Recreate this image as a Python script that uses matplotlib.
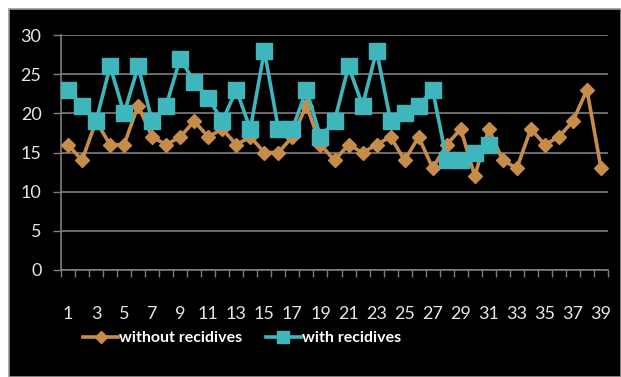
import matplotlib
matplotlib.use("Agg")
import matplotlib.pyplot as plt
from matplotlib.patches import Rectangle

# measurement number 1..39
patients = list(range(1, 40))

without_recidives = [16, 14, 19, 16, 16, 21, 17, 16, 17, 19,
                     17, 18, 16, 17, 15, 15, 17, 21, 16, 14,
                     16, 15, 16, 17, 14, 17, 13, 16, 18, 12,
                     18, 14, 13, 18, 16, 17, 19, 23, 13]

with_recidives = [23, 21, 19, 26, 20, 26, 19, 21, 27, 24,
                  22, 19, 23, 18, 28, 18, 18, 23, 17, 19,
                  26, 21, 28, 19, 20, 21, 23, 14, 14, 15,
                  16]

x_labels = [str(n) for n in patients[::2]]
y_ticks = [0, 5, 10, 15, 20, 25, 30]

BROWN = "#c68c4a"
TEAL = "#3fb6bb"
GRID = "#7f7f7f"
TEXT = "#e6e6e6"

plt.rcParams["font.family"] = ["Lato", "DejaVu Sans"]

W, H = 621, 377
fig = plt.figure(figsize=(W / 100, H / 100), dpi=100)
fig.patch.set_facecolor("white")

# black chart area with a thin grey frame
fig.patches.append(Rectangle((9 / W, 0), 1 - 9 / W, 1 - 9 / H,
                             transform=fig.transFigure, facecolor="black",
                             edgecolor="#9a9a9a", linewidth=1.2, zorder=-5))

ax = fig.add_axes([61 / W, 1 - 270 / H, (608 - 61) / W, (270 - 35) / H])
ax.set_facecolor("black")

ax.plot(patients, without_recidives, color=BROWN, lw=2.6, marker="D",
        ms=7.5, mec=BROWN, mfc=BROWN, label="without recidives", zorder=3)
ax.plot(patients[:len(with_recidives)], with_recidives, color=TEAL, lw=2.6,
        marker="s", ms=11, mec=TEAL, mfc=TEAL, label="with recidives", zorder=4)

ax.set_xlim(0.5, 39.5)
ax.set_ylim(0, 30)
ax.set_yticks(y_ticks)
ax.yaxis.grid(True, color=GRID, lw=1.2)
ax.set_axisbelow(True)

ax.set_xticks([p + 0.5 for p in [0] + patients])
ax.set_xticklabels([])
ax.set_xticks(patients[::2], minor=True)
ax.set_xticklabels(x_labels, minor=True)
ax.tick_params(axis="x", which="major", length=5, width=1, color=GRID,
               direction="out")
ax.tick_params(axis="x", which="minor", length=0, pad=26, labelsize=13,
               labelcolor=TEXT)
ax.tick_params(axis="y", length=6, width=1, color=GRID, pad=8,
               labelsize=13, labelcolor=TEXT)

for side in ("top", "right"):
    ax.spines[side].set_visible(False)
for side in ("left", "bottom"):
    ax.spines[side].set_color(GRID)
    ax.spines[side].set_linewidth(1.2)

leg = fig.legend(loc="center", bbox_to_anchor=(242 / W, 1 - 338 / H),
                 ncol=2, frameon=False, numpoints=1, handlelength=2.2,
                 handletextpad=0.05, columnspacing=1.45,
                 prop={"size": 11.5, "weight": "bold"})
for t in leg.get_texts():
    t.set_color("white")
for h in leg.legend_handles:
    h.set_markersize(h.get_markersize() * 0.8)

fig.savefig("out.png", dpi=100, facecolor=fig.get_facecolor())
